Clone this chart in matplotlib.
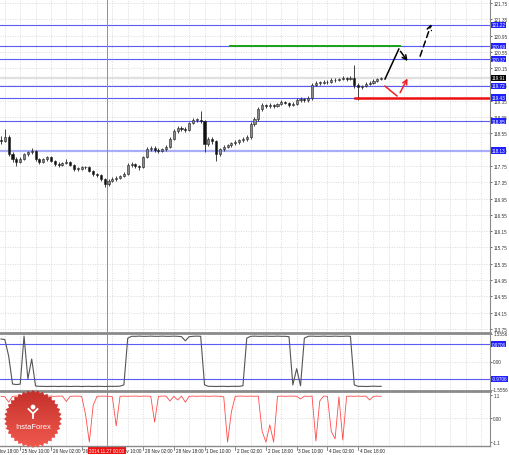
import numpy as np
import matplotlib.pyplot as plt
from matplotlib.lines import Line2D
from matplotlib.patches import Polygon, Circle

plt.rcParams['font.family'] = ['Liberation Sans', 'DejaVu Sans']

# ---- DATA (2-hour bars) ----
first_open = 118.40
closes = [118.36, 118.46, 118.05, 117.92, 117.85, 117.92, 118.04, 118.09, 118.12, 117.92,
          117.85, 117.92, 117.97, 117.87, 117.80, 117.78, 117.83, 117.85, 117.78, 117.68,
          117.68, 117.72, 117.72, 117.63, 117.55, 117.53, 117.43, 117.31, 117.38, 117.43,
          117.46, 117.50, 117.55, 117.77, 117.80, 117.75, 117.72, 117.97, 118.17, 118.19,
          118.14, 118.12, 118.17, 118.22, 118.41, 118.61, 118.68, 118.66, 118.63, 118.80,
          118.88, 118.88, 118.85, 118.29, 118.41, 118.36, 118.04, 118.17, 118.22, 118.26,
          118.31, 118.34, 118.39, 118.41, 118.46, 118.78, 118.90, 119.15, 119.25, 119.22,
          119.25, 119.22, 119.27, 119.32, 119.30, 119.25, 119.27, 119.37, 119.39, 119.37,
          119.42, 119.74, 119.79, 119.79, 119.81, 119.81, 119.86, 119.86, 119.88, 119.91,
          119.88, 119.91, 119.74, 119.69, 119.71, 119.76, 119.79, 119.84, 119.88, 119.91]
highs = [118.48, 118.66, 118.50, 118.10, 117.96, 117.96, 118.08, 118.13, 118.20, 118.14,
         117.95, 117.95, 118.00, 118.00, 117.90, 117.84, 117.86, 117.92, 117.88, 117.80,
         117.73, 117.76, 117.76, 117.75, 117.66, 117.59, 117.56, 117.46, 117.42, 117.47,
         117.50, 117.54, 117.60, 117.82, 117.85, 117.82, 117.78, 118.00, 118.22, 118.24,
         118.23, 118.18, 118.20, 118.26, 118.45, 118.65, 118.73, 118.72, 118.70, 118.84,
         118.93, 118.92, 119.10, 118.88, 118.46, 118.45, 118.40, 118.20, 118.26, 118.30,
         118.35, 118.38, 118.42, 118.45, 118.50, 118.82, 118.95, 119.19, 119.30, 119.28,
         119.29, 119.28, 119.30, 119.36, 119.35, 119.33, 119.31, 119.41, 119.44, 119.42,
         119.46, 119.78, 119.83, 119.83, 119.85, 119.85, 119.90, 119.90, 119.92, 119.95,
         119.94, 119.95, 120.22, 119.78, 119.75, 119.80, 119.83, 119.88, 119.92, 119.94]
lows = [118.30, 118.33, 118.00, 117.86, 117.74, 117.82, 117.89, 118.00, 118.05, 117.88,
        117.80, 117.82, 117.88, 117.84, 117.76, 117.73, 117.75, 117.80, 117.74, 117.63,
        117.63, 117.65, 117.68, 117.60, 117.50, 117.48, 117.38, 117.23, 117.27, 117.35,
        117.39, 117.42, 117.47, 117.52, 117.73, 117.70, 117.66, 117.69, 117.94, 118.12,
        118.10, 118.07, 118.09, 118.13, 118.19, 118.38, 118.57, 118.62, 118.58, 118.60,
        118.77, 118.83, 118.80, 118.10, 118.25, 118.30, 117.87, 118.00, 118.13, 118.18,
        118.22, 118.27, 118.30, 118.35, 118.37, 118.42, 118.74, 118.86, 119.10, 119.18,
        119.18, 119.18, 119.19, 119.24, 119.26, 119.21, 119.22, 119.24, 119.33, 119.32,
        119.33, 119.38, 119.71, 119.75, 119.76, 119.77, 119.78, 119.82, 119.83, 119.85,
        119.84, 119.85, 119.67, 119.38, 119.65, 119.68, 119.73, 119.76, 119.82, 119.85]

osc_gray = [1.25, 1.22, 0.30, -1.25, -1.28, -1.26, 1.41, -0.97, 0.14, -1.36,
            -1.38, -1.38, -1.39, -1.38, -1.38, -1.39, -1.38, -1.38, -1.39, -1.38,
            -1.38, -1.39, -1.38, -1.38, -1.39, -1.38, -1.38, -1.39, -1.38, -1.38,
            -1.38, -1.37, -1.30, 1.29, 1.40, 1.40, 1.41, 1.40, 1.40, 1.41,
            1.40, 1.40, 1.41, 1.40, 1.40, 1.41, 1.40, 1.38, 1.15, 1.38,
            1.40, 1.41, 1.40, -1.30, -1.38, -1.38, -1.39, -1.38, -1.38, -1.39,
            -1.38, -1.38, -1.38, -1.35, 1.30, 1.40, 1.41, 1.40, 1.40, 1.41,
            1.40, 1.40, 1.41, 1.40, 1.40, 1.38, -1.30, -0.40, -1.35, 1.30,
            1.40, 1.41, 1.40, 1.40, 1.41, 1.40, 1.40, 1.41, 1.40, 1.40,
            1.41, 1.40, -1.30, -1.38, -1.38, -1.39, -1.38, -1.37, -1.38, -1.38]

osc_red = [1.02, 1.00, 0.75, 1.02, 1.03, 1.03, 1.02, 1.03, 1.03, 1.02,
           1.03, 1.02, 1.03, 1.03, 1.02, 1.03, 1.03, 0.78, 1.02, 1.03,
           1.03, 1.02, 0.20, -1.10, 0.60, 1.02, 1.03, 1.03, 1.02, 1.00,
           -0.35, 1.02, 1.03, 1.02, 1.03, 1.03, 1.02, 1.03, 1.03, 1.02,
           -0.17, 1.02, 1.03, 1.03, 0.80, 1.02, 0.85, 1.03, 0.75, 1.02,
           1.03, 1.02, 1.03, 1.03, 1.02, 1.03, 1.03, 1.02, 1.00, -1.10,
           0.30, 1.02, 1.03, 1.03, 1.02, 1.03, 1.02, 1.03, -0.60, -1.10,
           -0.30, -1.10, 1.02, 1.03, 1.02, 1.03, 1.03, 1.02, 0.90, 1.03,
           1.02, 1.03, -1.05, 0.80, 1.03, 1.02, -0.60, -0.95, 1.00, -1.00,
           1.02, 1.03, 1.02, 1.03, 1.02, 1.03, 0.85, 1.02, 1.03, 1.02]

price_ticks = [113.75, 114.15, 114.55, 114.95, 115.35, 115.75, 116.15, 116.55, 116.95,
               117.35, 117.75, 118.15, 118.55, 118.95, 119.35, 119.75, 120.15, 120.55,
               120.95, 121.35, 121.75]
level_lines = [121.22, 120.69, 120.37, 119.72, 119.43, 118.85, 118.13]
current_price = 119.91
target_level = 120.69
stop_level = 119.41
osc_gray_levels = [0.9706, -0.9706]

time_labels = ["24 Nov 18:00", "25 Nov 10:00", "26 Nov 02:00", "26 Nov 18:00", "27 Nov 10:00",
               "28 Nov 02:00", "28 Nov 18:00", "1 Dec 10:00", "2 Dec 02:00", "2 Dec 18:00",
               "3 Dec 10:00", "4 Dec 02:00", "4 Dec 18:00"]
time_label_bars = [-3, 5, 13, 21, 29, 37, 45, 53, 61, 69, 77, 85, 93]
cursor_bar = 27.6
cursor_label = "2014.11.27 00:00"

# ---- LAYOUT ----
W, H = 510, 456
fig = plt.figure(figsize=(W / 100, H / 100), dpi=100)


def rect(x0, y0, x1, y1):
    return [x0 / W, 1 - y1 / H, (x1 - x0) / W, (y1 - y0) / H]


ax = fig.add_axes(rect(0, 1, 490, 333))
ax1 = fig.add_axes(rect(0, 334.5, 490, 390.5))
ax2 = fig.add_axes(rect(0, 393, 490, 447))

n = len(closes)
bars = np.arange(n)
opens = [first_open] + closes[:-1]
xlim = (-0.26, 127.34)
grid_x = np.arange(-3, 128, 4)
small = 3.3
grid_kw = dict(color='#cfcfcf', lw=0.5, ls=(0, (1.5, 2)), zorder=0)

for a in (ax, ax1, ax2):
    a.set_xlim(*xlim)
    a.set_xticks([])
    for s in a.spines.values():
        s.set_visible(False)
    for gx in grid_x:
        a.axvline(gx, **grid_kw)
    a.yaxis.tick_right()
    a.tick_params(axis='y', labelsize=small, length=1.5, width=0.5, pad=0.8, colors='#333333')

# ---- main price panel ----
ax.set_ylim(113.676, 121.824)
ax.set_yticks(price_ticks)
ax.set_yticklabels([f"{t:.2f}" for t in price_ticks])
for t in price_ticks:
    ax.axhline(t, **grid_kw)

ax.axhline(current_price, color='#e0e0e0', lw=1.6, zorder=1)
for lv in level_lines:
    if lv == 118.13:
        ax.axhline(lv, color='#a9aef8', lw=1.6, zorder=1)
    else:
        ax.axhline(lv, color='#5b5bf5', lw=0.8, zorder=1)

up = [c >= o for o, c in zip(opens, closes)]
ax.vlines(bars, lows, highs, color='#222222', lw=0.6, zorder=3)
body_lo = [min(o, c) for o, c in zip(opens, closes)]
body_h = [max(abs(c - o), 0.012) for o, c in zip(opens, closes)]
ax.bar(bars, body_h, bottom=body_lo, width=0.55,
       color=['#8a8a8a' if u else '#111111' for u in up],
       edgecolor='#222222', linewidth=0.4, zorder=4)

# levels drawn by the analyst
ax.plot([59.6, 103.9], [target_level, target_level], color='#1aa11a', lw=1.4, zorder=5)
ax.plot([92.2, xlim[1]], [stop_level, stop_level], color='#ee1111', lw=1.8, zorder=5)

# forecast arrows
ax.plot([100.0, 103.6], [119.885, 120.62], color='black', lw=1.1, zorder=6)
ax.annotate('', xy=(106.3, 120.27), xytext=(103.6, 120.62),
            arrowprops=dict(arrowstyle='->', color='black', lw=1.1, mutation_scale=8), zorder=6)
ax.annotate('', xy=(112.3, 121.30), xytext=(108.9, 120.38),
            arrowprops=dict(arrowstyle='->', color='black', lw=1.1, ls=(0, (4, 2.5)),
                            mutation_scale=8), zorder=6)
ax.plot([100.0, 103.1], [119.71, 119.47], color='#ee2222', lw=1.1, zorder=6)
ax.annotate('', xy=(106.2, 119.96), xytext=(103.6, 119.49),
            arrowprops=dict(arrowstyle='->', color='#ee2222', lw=1.1, mutation_scale=8), zorder=6)

ax.axvline(cursor_bar, color='#ff6060', lw=0.7, zorder=2)

lab_box = dict(boxstyle='square,pad=0.12', ec='none')
for lv in level_lines:
    ax.text(1.003, lv, f"{lv:.2f}", transform=ax.get_yaxis_transform(), fontsize=small,
            color='white', va='center', ha='left', bbox=dict(lab_box, fc='#2020ff'), zorder=10,
            clip_on=False)
ax.text(1.003, current_price, f"{current_price:.2f}", transform=ax.get_yaxis_transform(),
        fontsize=small, color='white', va='center', ha='left', bbox=dict(lab_box, fc='black'),
        zorder=10, clip_on=False)

# ---- gray oscillator ----
ax1.set_ylim(-1.5556, 1.5556)
ax1.set_yticks([1.5556, 0.0, -1.5556])
ax1.set_yticklabels(["1.5556", "0.00", "-1.5556"])
ax1.axhline(0, **grid_kw)
for lv in osc_gray_levels:
    ax1.axhline(lv, color='#5b5bf5', lw=0.8, zorder=1)
    ax1.text(1.003, lv, f"{lv:.4f}", transform=ax1.get_yaxis_transform(), fontsize=small,
             color='white', va='center', ha='left', bbox=dict(lab_box, fc='#2020ff'), zorder=10,
             clip_on=False)
ax1.plot(bars, osc_gray, color='#555555', lw=0.8, zorder=3)
ax1.axvline(cursor_bar, color='#ff6060', lw=0.7, zorder=2)

# ---- red oscillator ----
ax2.set_ylim(-1.28, 1.22)
ax2.set_yticks([1.1, 0.0, -1.1])
ax2.set_yticklabels(["1.1", "0.00", "-1.1"])
ax2.axhline(0, **grid_kw)
ax2.plot(bars, osc_red, color='#ff4a4a', lw=0.6, zorder=3)
ax2.axvline(cursor_bar, color='#ff6060', lw=0.7, zorder=2)

# ---- separators and frame ----
for y, lw in ((333.5, 2.0), (391.7, 2.0), (447, 1.0)):
    fig.add_artist(Line2D([0, 490 / W], [1 - y / H, 1 - y / H], transform=fig.transFigure,
                          color='#8a8a8a', lw=lw))
fig.add_artist(Line2D([490 / W, 490 / W], [1 - 447 / H, 1], transform=fig.transFigure,
                      color='#8a8a8a', lw=0.8))

# ---- time axis ----
tx = ax2.get_xaxis_transform()
for b, lab in zip(time_label_bars, time_labels):
    ax2.plot([b, b], [-0.02, -0.07], transform=tx, color='#555555', lw=0.5, clip_on=False)
    ax2.text(b + 0.45, -0.075, lab, transform=tx, fontsize=small, color='#222222',
             ha='left', va='center', clip_on=False)
ax2.text(cursor_bar, -0.075, cursor_label, transform=tx, fontsize=small, color='white',
         ha='center', va='center', bbox=dict(boxstyle='square,pad=0.25', fc='#ee1111', ec='none'),
         zorder=10, clip_on=False)
ax2.set_xlim(*xlim)

# ---- InstaForex badge ----
lg = fig.add_axes([0, 0, 1, 1], zorder=20)
lg.set_xlim(0, W)
lg.set_ylim(H, 0)
lg.axis('off')
cx, cy = 33, 420
ang = np.linspace(0, 2 * np.pi, 73)[:-1]
rad = np.where(np.arange(72) % 2 == 0, 29.0, 26.5)
star = Polygon(np.column_stack([cx + rad * np.cos(ang), cy + rad * np.sin(ang)]),
               closed=True, fc='none', ec='none')
lg.add_patch(star)
grad = np.linspace(0, 1, 64)[:, None]
cmap = plt.matplotlib.colors.LinearSegmentedColormap.from_list('badge', ['#c3302a', '#f25a4f'])
im = lg.imshow(grad, cmap=cmap, extent=(cx - 30, cx + 30, cy + 30, cy - 30), aspect='auto',
               zorder=1)
im.set_clip_path(star)
lg.add_patch(Circle((cx, cy - 12), 2.4, fc='white', ec='none', zorder=2))
lg.plot([cx - 4.5, cx, cx + 4.5], [cy - 10, cy - 5.5, cy - 10], color='white', lw=1.3, zorder=2)
lg.plot([cx, cx], [cy - 5.5, cy - 1], color='white', lw=1.3, zorder=2)
lg.text(cx, cy + 8, "InstaForex", color='white', fontsize=5.4, ha='center', va='center',
        zorder=3)

fig.savefig('out.png', dpi=100)
